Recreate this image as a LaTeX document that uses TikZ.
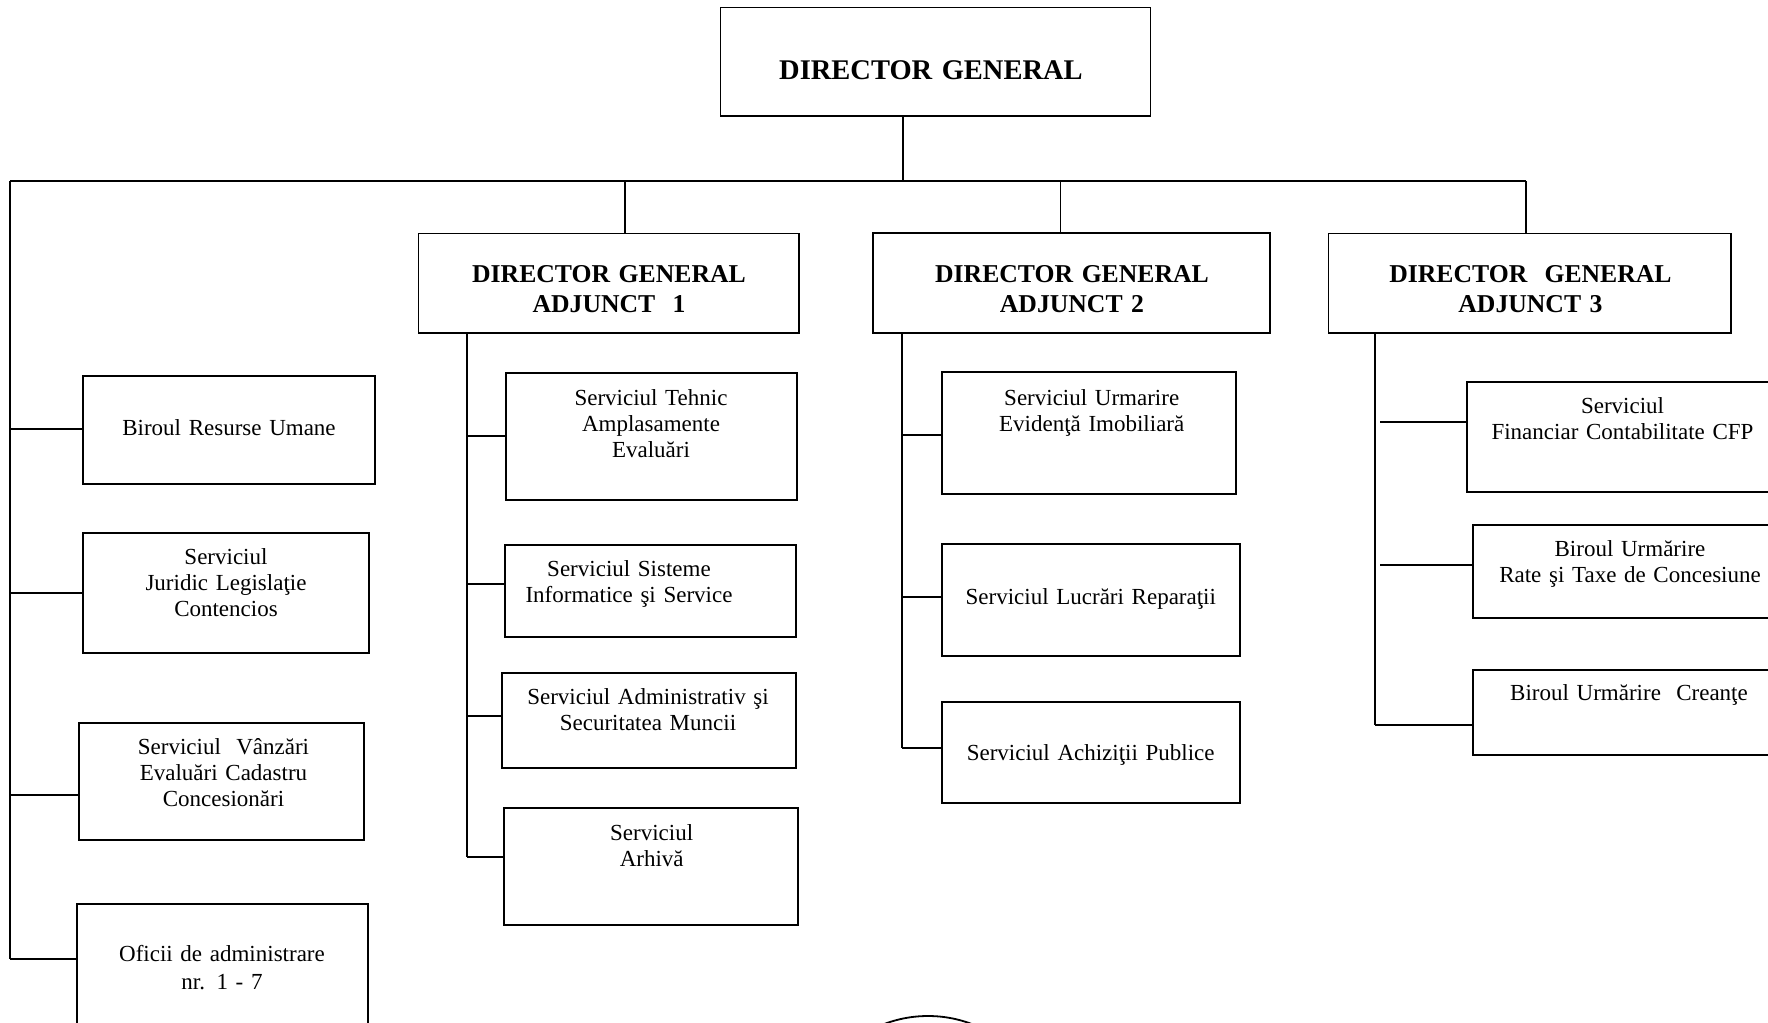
\documentclass[tikz,border=0pt]{standalone}
\usepackage{fontspec}
\setmainfont{Liberation Serif}
\begin{document}
\begin{tikzpicture}[x=1pt,y=-1pt,
  orgbox/.style={draw, line width=1.6pt, rectangle, inner sep=0pt, outer sep=0pt, anchor=north west},
  txt/.style={anchor=base, align=center, text width=340pt, inner sep=0pt, font=\fontsize{23}{26.3}\selectfont},
  ttl/.style={txt, font=\fontsize{25.7}{30}\selectfont\bfseries},
  conn/.style={line width=1.6pt}]
\clip (0,0) rectangle (1768,1022);
\fill[white] (0,0) rectangle (1768,1022);

% ---------- boxes ----------
\node[orgbox, minimum width=430pt, minimum height=108.5pt] (dg) at (720.5,7.5) {};
\node[orgbox, minimum width=380.5pt, minimum height=99.5pt] (dga1) at (418.5,233.5) {};
\node[orgbox, minimum width=397pt, minimum height=100pt] (dga2) at (873,233) {};
\node[orgbox, minimum width=402.5pt, minimum height=99.5pt] (dga3) at (1328.5,233.5) {};

\node[orgbox, minimum width=292pt, minimum height=108pt] (l1) at (83,376) {};
\node[orgbox, minimum width=286pt, minimum height=120pt] (l2) at (83,533) {};
\node[orgbox, minimum width=285pt, minimum height=117pt] (l3) at (79,723) {};
\node[orgbox, minimum width=291pt, minimum height=140pt] (l4) at (77,904) {};

\node[orgbox, minimum width=291pt, minimum height=127pt] (t1) at (506,373) {};
\node[orgbox, minimum width=291pt, minimum height=92pt] (t2) at (505,545) {};
\node[orgbox, minimum width=294pt, minimum height=95pt] (t3) at (502,673) {};
\node[orgbox, minimum width=294pt, minimum height=117pt] (t4) at (504,808) {};

\node[orgbox, minimum width=294pt, minimum height=122pt] (u1) at (942,372) {};
\node[orgbox, minimum width=298pt, minimum height=112pt] (u2) at (942,544) {};
\node[orgbox, minimum width=298pt, minimum height=101pt] (u3) at (942,702) {};

\node[orgbox, minimum width=310pt, minimum height=110pt] (f1) at (1467,382) {};
\node[orgbox, minimum width=314pt, minimum height=93pt] (f2) at (1473,525) {};
\node[orgbox, minimum width=314pt, minimum height=85pt] (f3) at (1473,670) {};

% ---------- texts ----------
\node[ttl, font=\fontsize{28.5}{34}\selectfont\bfseries] (tdg) at (931,80) {DIRECTOR GENERAL};
\node[ttl] (tdga1) at (609,282.7) {DIRECTOR GENERAL\\ADJUNCT\ \ 1};
\node[ttl] (tdga2) at (1072,282.7) {DIRECTOR GENERAL\\ADJUNCT 2};
\node[ttl] (tdga3) at (1530.5,282.7) {DIRECTOR\ \ GENERAL\\ADJUNCT 3};

\node[txt] (tl1) at (229,435) {Biroul Resurse Umane};
\node[txt] (tl2) at (226,564) {Serviciul\\Juridic Legislaţie\\Contencios};
\node[txt] (tl3) at (223.5,754) {Serviciul\ \ Vânzări\\Evaluări Cadastru\\Concesionări};
\node[txt, font=\fontsize{23}{28}\selectfont] (tl4) at (222,961) {Oficii de administrare\\nr. 1 - 7};

\node[txt] (tt1) at (651,405) {Serviciul Tehnic\\Amplasamente\\Evaluări};
\node[txt] (tt2) at (629,576) {Serviciul Sisteme\\Informatice şi Service};
\node[txt] (tt3) at (648,704) {Serviciul Administrativ şi\\Securitatea Muncii};
\node[txt] (tt4) at (651.7,840) {Serviciul\\Arhivă};

\node[txt] (tu1) at (1091.7,405) {Serviciul Urmarire\\Evidenţă Imobiliară};
\node[txt] (tu2) at (1090.8,604) {Serviciul Lucrări Reparaţii};
\node[txt] (tu3) at (1090.7,760) {Serviciul Achiziţii Publice};

\node[txt] (tf1) at (1622.5,413.3) {Serviciul\\Financiar Contabilitate CFP};
\node[txt] (tf2) at (1630,556) {Biroul Urmărire\\Rate şi Taxe de Concesiune};
\node[txt] (tf3) at (1629,700) {Biroul Urmărire\ \ Creanţe};

% ---------- connectors ----------
\coordinate (stem) at (903,181);
\coordinate (busL) at (10,181);
\coordinate (busR) at (1526,181);
\coordinate (drop1) at (625,181);
\coordinate (drop2) at (1060.5,181);
\draw[conn] (dg.south -| stem) -- (stem);
\draw[conn] (busL) -- (busR);
\draw[conn] (drop1) -- (drop1 |- dga1.north);
\draw[conn] (drop2) -- (drop2 |- dga2.north);
\draw[conn] (busR) -- (busR |- dga3.north);

% left trunk
\coordinate (lb1) at (10,429);
\coordinate (lb2) at (10,593);
\coordinate (lb3) at (10,795);
\coordinate (lb4) at (10,959);
\draw[conn] (busL) -- (lb4);
\draw[conn] (lb1) -- (lb1 -| l1.west);
\draw[conn] (lb2) -- (lb2 -| l2.west);
\draw[conn] (lb3) -- (lb3 -| l3.west);
\draw[conn] (lb4) -- (lb4 -| l4.west);

% DGA1 trunk
\coordinate (ab0) at (467,333);
\coordinate (ab1) at (467,436);
\coordinate (ab2) at (467,584);
\coordinate (ab3) at (467,716);
\coordinate (ab4) at (467,857);
\draw[conn] (ab0 |- dga1.south) -- (ab4);
\draw[conn] (ab1) -- (ab1 -| t1.west);
\draw[conn] (ab2) -- (ab2 -| t2.west);
\draw[conn] (ab3) -- (ab3 -| t3.west);
\draw[conn] (ab4) -- (ab4 -| t4.west);

% DGA2 trunk
\coordinate (bb0) at (902,333);
\coordinate (bb1) at (902,435);
\coordinate (bb2) at (902,597);
\coordinate (bb3) at (902,748);
\draw[conn] (bb0 |- dga2.south) -- (bb3);
\draw[conn] (bb1) -- (bb1 -| u1.west);
\draw[conn] (bb2) -- (bb2 -| u2.west);
\draw[conn] (bb3) -- (bb3 -| u3.west);

% DGA3 trunk
\coordinate (cb0) at (1375,333);
\coordinate (cb1) at (1380,422);
\coordinate (cb2) at (1380,565);
\coordinate (cb3) at (1375,725);
\draw[conn] (cb0 |- dga3.south) -- (cb3);
\draw[conn] (cb1) -- (cb1 -| f1.west);
\draw[conn] (cb2) -- (cb2 -| f2.west);
\draw[conn] (cb3) -- (cb3 -| f3.west);

% stamp fragment at the bottom edge
\draw[line width=1.8pt] (928,1139) circle (123);
\end{tikzpicture}
\end{document}
